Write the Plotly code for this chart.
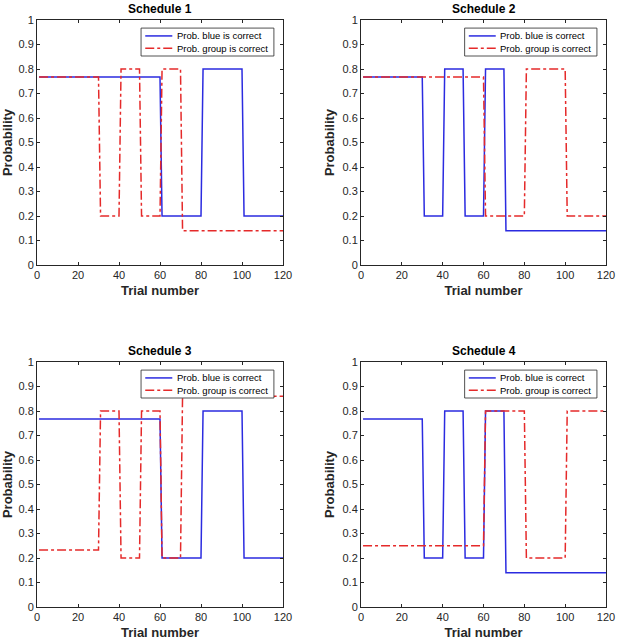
import plotly.graph_objects as go

# breakpoints (trial number) and probability at each breakpoint
trials_a = [1, 60, 61, 80, 81, 100, 101, 120]
trials_b = [1, 30, 31, 40, 41, 50, 51, 60, 61, 70, 71, 120]
trials_c = [1, 60, 61, 80, 81, 100, 101, 120]

blue_s1 = [0.767, 0.767, 0.2, 0.2, 0.8, 0.8, 0.2, 0.2]
group_s1 = [0.767, 0.767, 0.2, 0.2, 0.8, 0.8, 0.2, 0.2, 0.8, 0.8, 0.14, 0.14]

blue_s2 = [0.767, 0.767, 0.2, 0.2, 0.8, 0.8, 0.2, 0.2, 0.8, 0.8, 0.14, 0.14]
group_s2 = [0.767, 0.767, 0.2, 0.2, 0.8, 0.8, 0.2, 0.2]

blue_s3 = [0.767, 0.767, 0.2, 0.2, 0.8, 0.8, 0.2, 0.2]
group_s3 = [0.233, 0.233, 0.8, 0.8, 0.2, 0.2, 0.8, 0.8, 0.2, 0.2, 0.86, 0.86]

blue_s4 = [0.767, 0.767, 0.2, 0.2, 0.8, 0.8, 0.2, 0.2, 0.8, 0.8, 0.14, 0.14]
group_s4 = [0.25, 0.25, 0.8, 0.8, 0.2, 0.2, 0.8, 0.8]

titles = ["Schedule 1", "Schedule 2", "Schedule 3", "Schedule 4"]
series_names = ["Prob. blue is correct", "Prob. group is correct"]
x_ticks = [0, 20, 40, 60, 80, 100, 120]
y_ticks = [0, 0.1, 0.2, 0.3, 0.4, 0.5, 0.6, 0.7, 0.8, 0.9, 1]
y_labels = ["0", "0.1", "0.2", "0.3", "0.4", "0.5", "0.6", "0.7", "0.8", "0.9", "1"]

panels = [
    (trials_a, blue_s1, trials_b, group_s1),
    (trials_b, blue_s2, trials_c, group_s2),
    (trials_a, blue_s3, trials_b, group_s3),
    (trials_b, blue_s4, trials_c, group_s4),
]

W, H = 617, 640
# plot areas in pixels: (left, right, top, bottom)
boxes = [(37, 283, 20, 265), (361, 606, 20, 265), (37, 283, 362, 607), (361, 606, 362, 607)]

FONT = "Liberation Sans, Arial, sans-serif"
AX = "#262626"
BLUE = "#2b2be0"
RED = "#e52a2a"
WIDTH = 1.5

fig = go.Figure()
layout = dict(
    width=W, height=H,
    margin=dict(l=0, r=0, t=0, b=0),
    paper_bgcolor="white", plot_bgcolor="white",
    font=dict(family=FONT, size=11, color=AX),
    showlegend=False,
    annotations=[], shapes=[],
)

for i, (xb, yb, xg, yg) in enumerate(panels):
    n = "" if i == 0 else str(i + 1)
    xa, ya = "x" + n, "y" + n
    fig.add_trace(go.Scatter(
        x=xb, y=yb, mode="lines", name=series_names[0],
        line=dict(color=BLUE, width=WIDTH), xaxis=xa, yaxis=ya,
    ))
    fig.add_trace(go.Scatter(
        x=xg, y=yg, mode="lines", name=series_names[1],
        line=dict(color=RED, width=WIDTH, dash="dashdot"), xaxis=xa, yaxis=ya,
    ))

    l, r, t, b = boxes[i]
    common = dict(
        showgrid=False, zeroline=False, showline=True, linecolor=AX, linewidth=1,
        mirror="ticks", ticks="inside", ticklen=3, tickcolor=AX, automargin=False,
        tickfont=dict(family=FONT, size=11, color=AX),
    )
    layout["xaxis" + n] = dict(
        common, domain=[l / W, r / W], range=[0, 120], tickvals=x_ticks, anchor=ya,
        title=dict(text="<b>Trial number</b>", font=dict(family=FONT, size=13, color=AX), standoff=5),
    )
    layout["yaxis" + n] = dict(
        common, domain=[1 - b / H, 1 - t / H], range=[0, 1], tickvals=y_ticks, ticktext=y_labels,
        anchor=xa,
        title=dict(text="<b>Probability</b>", font=dict(family=FONT, size=13, color=AX), standoff=4),
    )
    layout["annotations"].append(dict(
        text=f"<b>{titles[i]}</b>", x=(l + r) / 2 / W, y=1 - (t - 2) / H,
        xref="paper", yref="paper", xanchor="center", yanchor="bottom",
        showarrow=False, font=dict(family=FONT, size=12, color="black"),
    ))

    # legend box in the top-right corner of each panel
    dx, dy = xa + " domain", ya + " domain"
    layout["shapes"].append(dict(
        type="rect", xref=dx, yref=dy, x0=0.423, x1=0.963, y0=0.853, y1=0.967,
        fillcolor="white", line=dict(color=AX, width=0.8), layer="above",
    ))
    for k, (name, col, dash) in enumerate(zip(series_names, [BLUE, RED], ["solid", "dashdot"])):
        yk = [0.935, 0.885][k]
        layout["shapes"].append(dict(
            type="line", xref=dx, yref=dy, x0=0.44, x1=0.55, y0=yk, y1=yk,
            line=dict(color=col, width=WIDTH, dash=dash), layer="above",
        ))
        layout["annotations"].append(dict(
            text=name, xref=dx, yref=dy, x=0.56, y=yk, xanchor="left", yanchor="middle",
            showarrow=False, font=dict(family=FONT, size=9.5, color="black"),
        ))

fig.update_layout(**layout)
# drop the default page margin so the figure fills the window
fig.write_html(
    "out.html",
    config={"displayModeBar": False},
    post_script="document.body.style.margin='0';document.body.style.overflow='hidden';",
)
